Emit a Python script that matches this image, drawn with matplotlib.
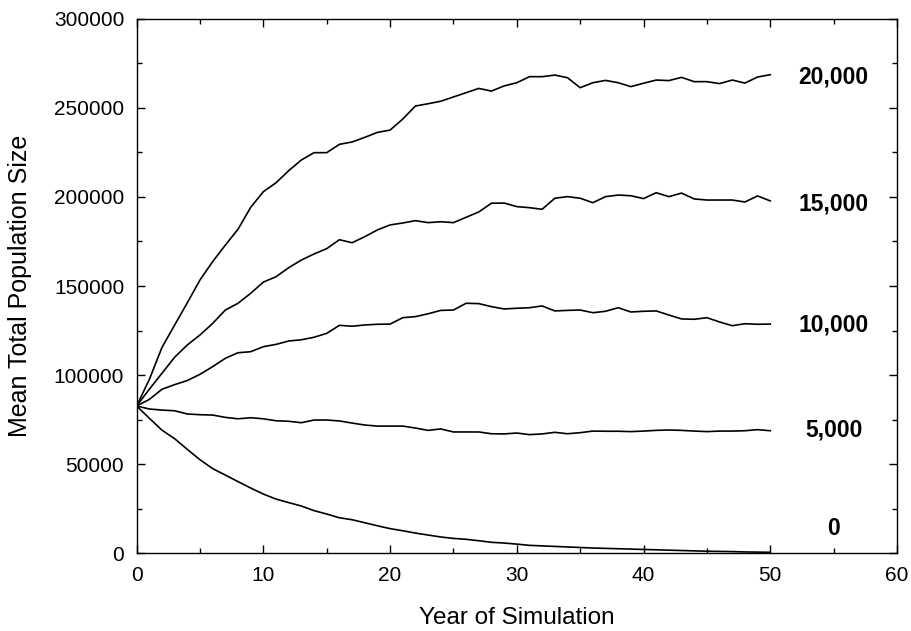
import matplotlib
matplotlib.use('Agg')
import matplotlib.pyplot as plt
from matplotlib.ticker import MultipleLocator
import numpy as np

plt.rcParams['font.family'] = ['Liberation Sans', 'DejaVu Sans']

years = np.arange(0, 51)

pop_20000 = [82600, 97500, 115500, 128100, 140600, 153400, 163700, 173000, 181900, 194200,
             203000, 208000, 214800, 220800, 224900, 224900, 229600, 230900, 233500, 236300,
             237600, 243800, 251100, 252400, 253800, 256200, 258600, 261000, 259500, 262400,
             264200, 267600, 267600, 268500, 267000, 261400, 264200, 265500, 264200, 262000,
             263900, 265700, 265400, 267200, 264800, 264800, 263700, 265700, 264000, 267400,
             268700]
pop_15000 = [82600, 92000, 101000, 110000, 116900, 122500, 129000, 136500, 140300, 145900,
             152200, 155200, 160300, 164600, 168000, 171000, 176000, 174300, 177700, 181500,
             184300, 185400, 186700, 185600, 186100, 185600, 188600, 191600, 196500, 196600,
             194600, 194000, 193100, 199300, 200200, 199300, 196800, 200200, 201100, 200700,
             199100, 202400, 200200, 202200, 198900, 198300, 198300, 198300, 197200, 200600,
             197800]
pop_10000 = [82600, 86300, 92000, 94600, 96900, 100400, 104700, 109400, 112500, 113100,
             115900, 117200, 119100, 119800, 121200, 123400, 127900, 127400, 128100, 128500,
             128600, 132200, 132800, 134400, 136300, 136500, 140300, 140100, 138400, 137100,
             137500, 137800, 138800, 136000, 136300, 136500, 135000, 135800, 137800, 135400,
             135800, 136000, 133700, 131500, 131300, 132200, 129800, 127700, 128800, 128500,
             128600]
pop_5000 = [82600, 80900, 80300, 79900, 78100, 77700, 77500, 76200, 75400, 76000,
            75400, 74300, 74000, 73200, 74700, 74700, 74200, 73000, 71900, 71300,
            71300, 71300, 70200, 68900, 69700, 68000, 68000, 68000, 67000, 66900,
            67400, 66500, 66900, 67800, 67000, 67600, 68500, 68400, 68400, 68200,
            68500, 68900, 69100, 68900, 68500, 68200, 68500, 68500, 68700, 69300,
            68700]
pop_0 = [82600, 75700, 69000, 64200, 58200, 52400, 47400, 43800, 40100, 36500,
         33100, 30300, 28300, 26400, 23800, 21900, 19800, 18700, 17000, 15300,
         13700, 12500, 11200, 10100, 9000, 8200, 7700, 6900, 6000, 5600,
         5000, 4300, 4000, 3700, 3400, 3100, 2800, 2600, 2400, 2200,
         2000, 1800, 1600, 1400, 1200, 1000, 900, 800, 600, 500,
         400]

series = [pop_20000, pop_15000, pop_10000, pop_5000, pop_0]
labels = ['20,000', '15,000', '10,000', '5,000', '0']
label_y = [267400, 196100, 128100, 69100, 14000]

fig = plt.figure(figsize=(9.11, 6.31), dpi=100)
ax = fig.add_axes([0.150, 0.1236, 0.8346, 0.8463])

for vals in series:
    ax.plot(years, vals, color='black', lw=1.2)

for lab, yv in zip(labels, label_y):
    ax.text(55, yv, lab, ha='center', va='center', fontsize=16.5, fontweight='bold')

ax.set_xlim(0, 60)
ax.set_ylim(0, 300000)
ax.xaxis.set_major_locator(MultipleLocator(10))
ax.xaxis.set_minor_locator(MultipleLocator(5))
ax.yaxis.set_major_locator(MultipleLocator(50000))
ax.yaxis.set_minor_locator(MultipleLocator(25000))
ax.tick_params(which='both', direction='in', top=True, right=True, labelsize=15, width=1)
ax.tick_params(which='major', length=6, pad=9)
ax.tick_params(which='minor', length=3.5)
for sp in ax.spines.values():
    sp.set_linewidth(1)

ax.set_xlabel('Year of Simulation', fontsize=17.5, labelpad=16)
ax.set_ylabel('Mean Total Population Size', fontsize=18, labelpad=16)

fig.savefig('out.png', dpi=100)
